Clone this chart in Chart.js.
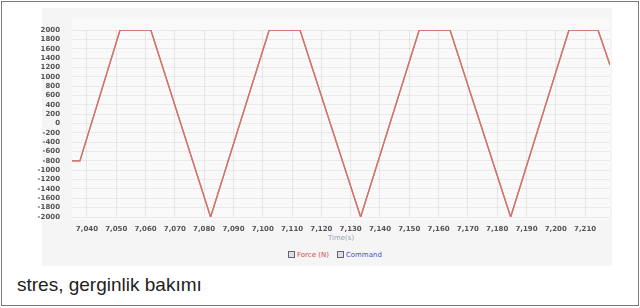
<!DOCTYPE html>
<html>
<head>
<meta charset="utf-8">
<script src="https://cdn.jsdelivr.net/npm/chart.js@4.4.1/dist/chart.umd.min.js"></script>
<style>
  html, body { margin:0; padding:0; width:640px; height:308px; background:#fff; overflow:hidden; }
  #frame { position:absolute; left:1px; top:1px; width:636px; height:303px; border:1px solid #7a7a7a; }
  #panel { position:absolute; left:42px; top:8px; width:570px; height:258px; background:#f5f5f5; }
  #wrap { position:absolute; left:30px; top:8px; width:582px; height:240px; }
  #legend { position:absolute; top:251px; left:288px; font:7px "DejaVu Sans", sans-serif; white-space:nowrap; }
  #legend span.box { display:inline-block; width:5px; height:5px; border:1px solid #666; background:#dde; vertical-align:-1px; margin-right:2px; }
  #legend span.t1 { color:#d04848; margin-right:8px; }
  #legend span.t2 { color:#4850c8; }
  #caption { position:absolute; left:17px; top:274px; font:19px "Liberation Sans", Arial, sans-serif; color:#222; }
</style>
</head>
<body>
<div id="frame"></div>
<div id="panel"></div>
<div id="wrap"><canvas id="c" width="582" height="240"></canvas></div>
<div id="legend"><span class="box"></span><span class="t1">Force (N)</span><span class="box"></span><span class="t2">Command</span></div>
<div id="caption">stres, gerginlik bakımı</div>
<script>
// Data
const timeValues  = [7034.9, 7037.6, 7051.3, 7061.8, 7082.2, 7102.2, 7112.7, 7133.4, 7153.4, 7163.9, 7184.6, 7204.5, 7214.4, 7218.5];
const forceValues = [-800, -800, 2000, 2000, -2000, 2000, 2000, -2000, 2000, 2000, -2000, 2000, 2000, 1250];
const commandValues = [-800, -800, 2000, 2000, -2000, 2000, 2000, -2000, 2000, 2000, -2000, 2000, 2000, 1250];
const xRange = [7034.9, 7218.5];
const yRange = [-2000, 2000];
const xStep = 10;
const yStep = 200;

const toPoints = (xs, ys) => xs.map((x, i) => ({x: x, y: ys[i]}));

const bgPlugin = {
  id: 'plotbg',
  beforeDraw(chart) {
    const {ctx, chartArea: a} = chart;
    ctx.save();
    ctx.fillStyle = '#f9f9f9';
    ctx.fillRect(a.left, a.top - 12, a.right - a.left, a.bottom - a.top + 15);
    ctx.restore();
  }
};

new Chart(document.getElementById('c'), {
  type: 'line',
  data: {
    datasets: [
      { label: 'Force (N)', data: toPoints(timeValues, forceValues), borderColor: '#d07468', borderWidth: 1.3, pointRadius: 0, tension: 0, order: 0 },
      { label: 'Command', data: toPoints(timeValues, commandValues), borderColor: '#d07468', borderWidth: 1.3, pointRadius: 0, tension: 0, order: 1 }
    ]
  },
  options: {
    responsive: false,
    animation: false,
    events: [],
    layout: { padding: { top: 22, right: 2, left: 0, bottom: 0 } },
    plugins: { legend: { display: false }, tooltip: { enabled: false } },
    scales: {
      x: {
        type: 'linear',
        min: xRange[0], max: xRange[1],
        border: { display: false },
        grid: { color: 'rgba(0,0,0,0.07)', drawTicks: false },
        ticks: {
          stepSize: xStep, includeBounds: false, autoSkip: false, maxRotation: 0, padding: 8,
          color: '#555', font: { family: 'DejaVu Sans', size: 7, weight: 'bold' },
          callback: v => v.toLocaleString('en-US')
        },
        title: { display: true, text: 'Time(s)', color: '#9aa0b4', font: { family: 'DejaVu Sans', size: 7 }, padding: { top: 0, bottom: 6 } },
        afterFit(s) { s.height = 31; }
      },
      y: {
        min: yRange[0], max: yRange[1],
        border: { display: false },
        grid: { color: 'rgba(0,0,0,0.06)', drawTicks: false },
        ticks: {
          stepSize: yStep, autoSkip: false, padding: 12,
          color: '#555', font: { family: 'DejaVu Sans', size: 7, weight: 'bold' },
          callback: v => String(v)
        },
        afterFit(s) { s.width = 42; }
      }
    }
  },
  plugins: [bgPlugin]
});
</script>
</body>
</html>
